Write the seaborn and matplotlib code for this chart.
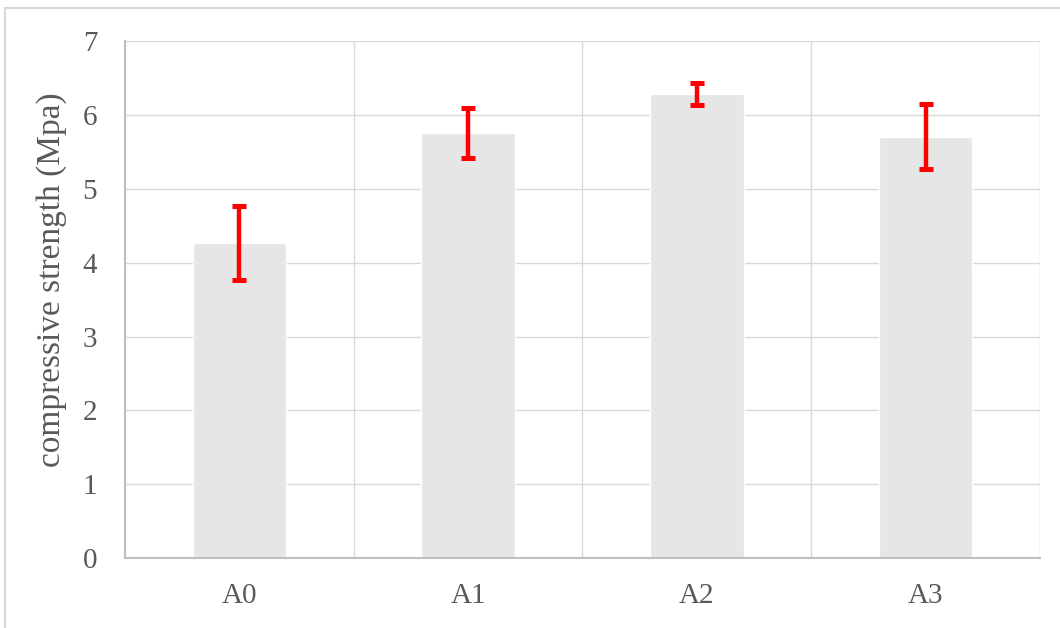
import numpy as np
import pandas as pd
import matplotlib
matplotlib.use("Agg")
import matplotlib.pyplot as plt
from matplotlib.lines import Line2D
import seaborn as sns

# data
samples = ["A0", "A1", "A2", "A3"]
strength = [4.27, 5.75, 6.28, 5.70]
strength_err = [0.50, 0.34, 0.15, 0.44]
y_ticks = [0, 1, 2, 3, 4, 5, 6, 7]

df = pd.DataFrame({"sample": samples, "strength": strength})

sns.set_style("white")
plt.rcParams["font.family"] = ["Liberation Serif", "DejaVu Serif"]
text_col = "#595959"

fig = plt.figure(figsize=(10.6, 6.28), dpi=100)
ax = fig.add_axes([0.118, 0.111, 0.863, 0.824])

sns.barplot(data=df, x="sample", y="strength", color="#e6e6e6",
            width=0.41, errorbar=None, saturation=1, ax=ax, zorder=2)

xpos = np.arange(len(samples))
ax.errorbar(xpos, strength, yerr=strength_err, fmt="none", ecolor="#ff0000",
            elinewidth=3.2, capsize=4.8, capthick=3.6, zorder=3)

ax.set_ylim(0, 7)
ax.set_xlim(-0.5, len(samples) - 0.5)
ax.set_yticks(y_ticks)
ax.set_xticks(xpos, minor=False)
ax.set_xticks(np.arange(len(samples) + 1) - 0.5, minor=True)
ax.yaxis.grid(True, color="#d9d9d9", linewidth=1.0, zorder=0)
ax.xaxis.grid(True, which="minor", color="#d9d9d9", linewidth=1.0, zorder=0)
ax.set_axisbelow(True)

for side in ["top", "right"]:
    ax.spines[side].set_visible(False)
for side in ["left", "bottom"]:
    ax.spines[side].set_color("#bfbfbf")
    ax.spines[side].set_linewidth(1.5)

ax.tick_params(axis="both", which="both", length=0, labelsize=21, colors=text_col)
ax.tick_params(axis="y", pad=20)
ax.tick_params(axis="x", pad=18)
ax.set_xlabel("")
ax.set_ylabel("compressive strength (Mpa)", fontsize=24, color=text_col)
ax.yaxis.set_label_coords(-0.063, 0.538)

# outer chart-area border (top and left edges visible in the reference)
fig.add_artist(Line2D([0.0047, 1.0], [0.987, 0.987], transform=fig.transFigure,
                      color="#d9d9d9", linewidth=1.5))
fig.add_artist(Line2D([0.0047, 0.0047], [0.0, 0.987], transform=fig.transFigure,
                      color="#d9d9d9", linewidth=1.5))

fig.savefig("out.png", dpi=100)
